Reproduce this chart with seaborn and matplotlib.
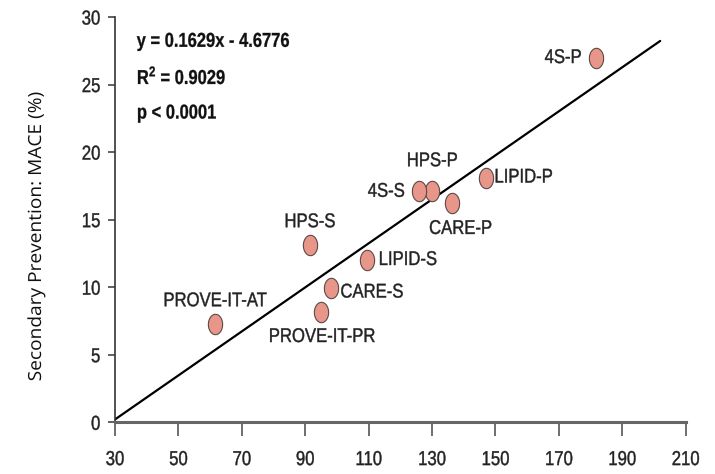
import numpy as np
import pandas as pd
import seaborn as sns
import matplotlib.pyplot as plt
from matplotlib.path import Path
from matplotlib.transforms import Affine2D
from matplotlib import patheffects

# Trial data: LDL-C (x) vs MACE rate in secondary prevention (y)
trials = ["4S-P", "HPS-P", "4S-S", "CARE-P", "LIPID-P", "HPS-S",
          "LIPID-S", "CARE-S", "PROVE-IT-PR", "PROVE-IT-AT"]
ldl = [181.7, 130.1, 125.9, 136.4, 147.0, 91.5, 109.6, 98.0, 94.9, 61.6]
mace = [27.0, 17.1, 17.1, 16.2, 18.05, 13.1, 12.05, 9.95, 8.2, 7.25]

slope = 0.1629
intercept = -4.6776
r_squared = 0.9029
p_text = "p < 0.0001"

x_ticks = [30, 50, 70, 90, 110, 130, 150, 170, 190, 210]
y_ticks = [0, 5, 10, 15, 20, 25, 30]
y_label = "Secondary Prevention: MACE (%)"

# label offsets (points) and alignment for each trial
label_style = {
    "4S-P": ((-10, 0), "right"),
    "HPS-P": ((0, 22), "center"),
    "4S-S": ((-10, 0), "right"),
    "CARE-P": ((6, -18), "center"),
    "LIPID-P": ((6, 1), "left"),
    "HPS-S": ((0, 17), "center"),
    "LIPID-S": ((8, 0), "left"),
    "CARE-S": ((7, -3), "left"),
    "PROVE-IT-PR": ((1, -18), "center"),
    "PROVE-IT-AT": ((0, 17), "center"),
}


class Condensed(patheffects.AbstractPathEffect):
    """Draw text horizontally compressed around its anchor side,
    with an optional thin outline to give it more weight."""

    def __init__(self, sx=0.83, ha="center", weight=0.0):
        super().__init__()
        self.sx = sx
        self.ha = ha
        self.weight = weight

    def draw_path(self, renderer, gc, tpath, affine, rgbFace=None):
        ext = tpath.get_extents()
        pivot = {"left": ext.x0, "right": ext.x1}.get(self.ha, 0.5 * (ext.x0 + ext.x1))
        squeeze = Affine2D().translate(-pivot, 0).scale(self.sx, 1).translate(pivot, 0)
        gc0 = renderer.new_gc()
        gc0.copy_properties(gc)
        if self.weight > 0 and rgbFace is not None:
            gc0.set_linewidth(self.weight)
            gc0.set_foreground(rgbFace)
        renderer.draw_path(gc0, tpath, squeeze + affine, rgbFace)
        gc0.restore()


df = pd.DataFrame({"trial": trials, "ldl": ldl, "mace": mace})

sns.set_style("ticks")
plt.rcParams["font.family"] = ["Liberation Sans", "DejaVu Sans"]
plt.rcParams["mathtext.fontset"] = "custom"
plt.rcParams["mathtext.rm"] = "Liberation Sans:bold"
plt.rcParams["mathtext.bf"] = "Liberation Sans:bold"

fig = plt.figure(figsize=(7.15, 4.74), dpi=100)
ax = fig.add_axes([0.1608, 0.1091, 0.798, 0.855])

# slightly tall ellipse marker
t = np.linspace(0, 2 * np.pi, 60)
ellipse = Path(np.column_stack([0.70 * np.cos(t), np.sin(t)]), closed=True)

xl = np.array([30, 202])
ax.plot(xl, slope * xl + intercept, color="black", lw=1.6, zorder=1)

sns.scatterplot(data=df, x="ldl", y="mace", ax=ax, marker=ellipse, s=215,
                color="#E9968A", edgecolor="#5a4a45", linewidth=0.8,
                zorder=3, legend=False)

for name, xv, yv in zip(trials, ldl, mace):
    (dx, dy), ha = label_style[name]
    ax.annotate(name, (xv, yv), xytext=(dx, dy), textcoords="offset points",
                ha=ha, va="center", fontsize=14.3, color="#222222",
                path_effects=[Condensed(0.84, ha, 0.3)])

stats_lines = [f"y = {slope}x - {abs(intercept)}",
               f"R$^{{2}}$ = {r_squared}",
               p_text]
for i, line in enumerate(stats_lines):
    ax.text(0.038, 0.94 - 0.0885 * i, line, transform=ax.transAxes,
            fontsize=14.5, fontweight="bold", va="center", ha="left",
            color="#111111", path_effects=[Condensed(0.82, "left", 0.2)])

ax.set_xlim(30, 210)
ax.set_ylim(0, 30)
ax.set_xticks(x_ticks)
ax.set_yticks(y_ticks)
ax.tick_params(axis="x", length=10, width=1.2, labelsize=14.5, pad=10,
               color="#555555", labelcolor="#222222")
ax.tick_params(axis="y", length=5, width=1.2, labelsize=14.5, pad=5.5,
               color="#444444", labelcolor="#222222")
for lbl in ax.get_xticklabels():
    lbl.set_path_effects([Condensed(0.83, "center", 0.3)])
for lbl in ax.get_yticklabels():
    lbl.set_path_effects([Condensed(0.83, "right", 0.3)])

sns.despine(ax=ax)
ax.spines["left"].set_linewidth(1.2)
ax.spines["left"].set_color("#333333")
ax.spines["bottom"].set_linewidth(2.2)
ax.spines["bottom"].set_color("#666666")

ax.set_xlabel("")
ax.set_ylabel("")
fig.text(36 / 715, 1 - 237 / 474, y_label, rotation=90, ha="center", va="center",
         fontsize=13, family="Open Sans", color="#111111",
         path_effects=[Condensed(1.06, "center")])

fig.savefig("out.png", dpi=100)
